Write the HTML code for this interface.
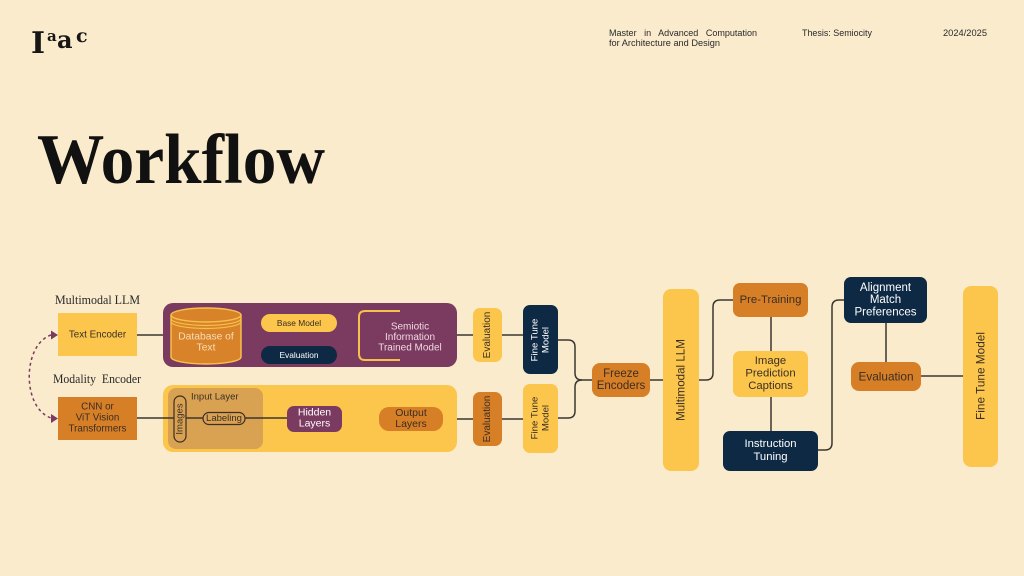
<!DOCTYPE html>
<html><head><meta charset="utf-8"><style>
html,body{margin:0;padding:0;background:#FAEBCC;}
svg{display:block;}
</style></head><body>
<svg width="1024" height="576" viewBox="0 0 1024 576" xmlns="http://www.w3.org/2000/svg" font-family="'Liberation Sans', sans-serif">
<rect width="1024" height="576" fill="#FAEBCC"/>

<!-- Logo -->
<g font-family="'DejaVu Serif','Liberation Serif',serif" font-weight="bold" fill="#161616">
<text x="31" y="53" font-size="30">I</text>
<text x="47" y="41" font-size="15">a</text>
<text x="57" y="48" font-size="24">a</text>
<text x="76" y="42" font-size="19">c</text>
</g>

<!-- Header -->
<g font-size="9" fill="#2a2a2a">
<text x="609" y="36" word-spacing="5" textLength="148" lengthAdjust="spacingAndGlyphs">Master in Advanced Computation</text>
<text x="609" y="46" textLength="111" lengthAdjust="spacingAndGlyphs">for Architecture and Design</text>
<text x="802" y="36" textLength="70" lengthAdjust="spacingAndGlyphs">Thesis: Semiocity</text>
<text x="943" y="36" textLength="44" lengthAdjust="spacingAndGlyphs">2024/2025</text>
</g>

<!-- Title -->
<text x="37" y="183" font-family="'Liberation Serif',serif" font-weight="bold" font-size="71" fill="#111" textLength="288" lengthAdjust="spacingAndGlyphs">Workflow</text>

<!-- Serif labels -->
<g font-family="'Liberation Serif',serif" font-size="12.5" fill="#2a2a2a">
<text x="55" y="304" textLength="85" lengthAdjust="spacingAndGlyphs">Multimodal LLM</text>
<text x="53" y="383" textLength="88" lengthAdjust="spacingAndGlyphs" xml:space="preserve">Modality  Encoder</text>
</g>

<!-- Connectors -->
<g fill="none" stroke="#3a3631" stroke-width="1.5">
<path d="M137,335 H163"/>
<path d="M137,418 H287"/>
<path d="M342,418 H379"/>
<path d="M443,419 H473"/>
<path d="M502,419 H523"/>
<path d="M457,335 H473"/>
<path d="M502,335 H523"/>
<path d="M241,336 H247 Q252,336 252,331 V328 Q252,323 257,323 H261"/>
<path d="M299,332 V346"/>
<path d="M337,323 H343 Q348,323 348,328 V331 Q348,336 353,336 H359"/>
<path d="M558,340 H568 Q575,340 575,347 V373 Q575,380 582,380 H592"/>
<path d="M558,418 H568 Q575,418 575,411 V387 Q575,380 582,380"/>
<path d="M650,380 H663"/>
<path d="M699,380 H706 Q713,380 713,373 V307 Q713,300 720,300 H733"/>
<path d="M771,317 V351"/>
<path d="M771,397 V431"/>
<path d="M818,450 H825 Q832,450 832,443 V307 Q832,300 839,300 H844"/>
<path d="M886,323 V362"/>
<path d="M921,376 H963"/>
</g>

<!-- Dashed arc -->
<path d="M51,335 C 22,345 22,408 51,418" fill="none" stroke="#7B3A5F" stroke-width="1.5" stroke-dasharray="3,3"/>
<polygon points="51,330.5 58,335 51,339.5" fill="#7B3A5F"/>
<polygon points="51,414 58,418.5 51,423" fill="#7B3A5F"/>

<!-- Left boxes -->
<rect x="58" y="313" width="79" height="43" fill="#FCC64C"/>
<text x="97.5" y="335" font-size="9.8" fill="#3a2e25" text-anchor="middle" dominant-baseline="central">Text Encoder</text>
<rect x="58" y="397" width="79" height="43" fill="#D77F26"/>
<g font-size="9.8" fill="#3a2e25" text-anchor="middle" dominant-baseline="central">
<text x="97.5" y="407">CNN or</text>
<text x="97.5" y="418">ViT Vision</text>
<text x="97.5" y="429">Transformers</text>
</g>

<!-- Purple panel -->
<rect x="163" y="303" width="294" height="64" rx="10" fill="#7B3A5F"/>
<!-- cylinder -->
<path d="M171,315 V357 A35,7 0 0 0 241,357 V315" fill="#D8832A" stroke="#F6C04A" stroke-width="1.5"/>
<ellipse cx="206" cy="315" rx="35" ry="7" fill="#D8832A" stroke="#F6C04A" stroke-width="1.5"/>
<path d="M171,318.5 A35,7 0 0 0 241,318.5" fill="none" stroke="#F6C04A" stroke-width="1.2"/>
<path d="M171,321.5 A35,7 0 0 0 241,321.5" fill="none" stroke="#F6C04A" stroke-width="1.2"/>
<text x="206" y="337" font-size="10.3" fill="#F7DDB5" text-anchor="middle" dominant-baseline="central">Database of</text>
<text x="206" y="348" font-size="10.3" fill="#F7DDB5" text-anchor="middle" dominant-baseline="central">Text</text>

<rect x="261" y="314" width="76" height="18" rx="9" fill="#FCC64C"/>
<text x="299" y="323" font-size="8.4" fill="#3a2e25" text-anchor="middle" dominant-baseline="central">Base Model</text>
<rect x="261" y="346" width="76" height="18" rx="9" fill="#0D2944"/>
<text x="299" y="355" font-size="8.4" fill="#fff" text-anchor="middle" dominant-baseline="central">Evaluation</text>

<path d="M400,311 H365 Q359,311 359,317 V354 Q359,360 365,360 H400" fill="none" stroke="#F6C04A" stroke-width="2"/>
<g font-size="10" fill="#EFD9E2" text-anchor="middle" dominant-baseline="central">
<text x="410" y="327">Semiotic</text>
<text x="410" y="337.5">Information</text>
<text x="410" y="348">Trained Model</text>
</g>

<!-- Top evaluation / fine tune -->
<rect x="473" y="308" width="29" height="54" rx="7" fill="#FCC64C"/>
<text transform="translate(487.5,335) rotate(-90)" font-size="10" fill="#3a2e25" text-anchor="middle" dominant-baseline="central">Evaluation</text>
<rect x="523" y="305" width="35" height="69" rx="7" fill="#0D2944"/>
<g transform="translate(540.5,340) rotate(-90)" font-size="9.6" fill="#fff" text-anchor="middle" dominant-baseline="central">
<text x="0" y="-5.5">Fine Tune</text>
<text x="0" y="5.5">Model</text>
</g>

<!-- Yellow panel -->
<rect x="163" y="385" width="294" height="67" rx="10" fill="#FCC64C"/>
<rect x="168" y="388" width="95" height="61" rx="8" fill="#D9A152"/>
<path d="M163,418 H287" stroke="#3a3631" stroke-width="1.5"/>
<text x="191" y="397" font-size="9.5" fill="#3a2e25" dominant-baseline="central">Input Layer</text>
<rect x="174" y="396" width="12" height="46" rx="6" fill="#D9A152" stroke="#3a2e25" stroke-width="1.2"/>
<text transform="translate(180,419) rotate(-90)" font-size="9.5" fill="#3a2e25" text-anchor="middle" dominant-baseline="central">Images</text>
<rect x="203" y="412.5" width="42" height="12" rx="6" fill="#D9A152" stroke="#3a2e25" stroke-width="1.2"/>
<text x="224" y="418.5" font-size="9.5" fill="#3a2e25" text-anchor="middle" dominant-baseline="central">Labeling</text>
<rect x="287" y="406" width="55" height="26" rx="7" fill="#7B3A5F"/>
<text x="314.5" y="412.5" font-size="10.5" fill="#fff" text-anchor="middle" dominant-baseline="central">Hidden</text>
<text x="314.5" y="423.5" font-size="10.5" fill="#fff" text-anchor="middle" dominant-baseline="central">Layers</text>
<rect x="379" y="407" width="64" height="24" rx="10" fill="#D77F26"/>
<text x="411" y="413" font-size="10.5" fill="#3a2e25" text-anchor="middle" dominant-baseline="central">Output</text>
<text x="411" y="424" font-size="10.5" fill="#3a2e25" text-anchor="middle" dominant-baseline="central">Layers</text>

<!-- Bottom evaluation / fine tune -->
<rect x="473" y="392" width="29" height="54" rx="7" fill="#D77F26"/>
<text transform="translate(487.5,419) rotate(-90)" font-size="10" fill="#3a2e25" text-anchor="middle" dominant-baseline="central">Evaluation</text>
<rect x="523" y="384" width="35" height="69" rx="7" fill="#FCC64C"/>
<g transform="translate(540.5,418) rotate(-90)" font-size="9.6" fill="#3a2e25" text-anchor="middle" dominant-baseline="central">
<text x="0" y="-5.5">Fine Tune</text>
<text x="0" y="5.5">Model</text>
</g>

<!-- Freeze -->
<rect x="592" y="363" width="58" height="34" rx="8" fill="#D77F26"/>
<text x="621" y="374" font-size="11.5" fill="#3a2e25" text-anchor="middle" dominant-baseline="central">Freeze</text>
<text x="621" y="386" font-size="11.5" fill="#3a2e25" text-anchor="middle" dominant-baseline="central">Encoders</text>

<!-- Multimodal LLM -->
<rect x="663" y="289" width="36" height="182" rx="8" fill="#FCC64C"/>
<text transform="translate(681,380) rotate(-90)" font-size="11.6" fill="#3a2e25" text-anchor="middle" dominant-baseline="central">Multimodal LLM</text>

<!-- Pre-training column -->
<rect x="733" y="283" width="75" height="34" rx="7" fill="#D77F26"/>
<text x="770.5" y="300" font-size="11.3" fill="#3a2e25" text-anchor="middle" dominant-baseline="central">Pre-Training</text>
<rect x="733" y="351" width="75" height="46" rx="7" fill="#FCC64C"/>
<g font-size="11.3" fill="#3a2e25" text-anchor="middle" dominant-baseline="central">
<text x="770.5" y="361">Image</text>
<text x="770.5" y="373.5">Prediction</text>
<text x="770.5" y="386">Captions</text>
</g>
<rect x="723" y="431" width="95" height="40" rx="7" fill="#0D2944"/>
<text x="770.5" y="444" font-size="11.3" fill="#fff" text-anchor="middle" dominant-baseline="central">Instruction</text>
<text x="770.5" y="457" font-size="11.3" fill="#fff" text-anchor="middle" dominant-baseline="central">Tuning</text>

<!-- Alignment column -->
<rect x="844" y="277" width="83" height="46" rx="7" fill="#0D2944"/>
<g font-size="11.5" fill="#fff" text-anchor="middle" dominant-baseline="central">
<text x="885.5" y="288">Alignment</text>
<text x="885.5" y="300">Match</text>
<text x="885.5" y="312.5">Preferences</text>
</g>
<rect x="851" y="362" width="70" height="29" rx="8" fill="#D77F26"/>
<text x="886" y="376.5" font-size="11.8" fill="#3a2e25" text-anchor="middle" dominant-baseline="central">Evaluation</text>

<!-- Final fine tune -->
<rect x="963" y="286" width="35" height="181" rx="8" fill="#FCC64C"/>
<text transform="translate(980.5,376) rotate(-90)" font-size="11.8" fill="#3a2e25" text-anchor="middle" dominant-baseline="central">Fine Tune Model</text>
</svg>
</body></html>
